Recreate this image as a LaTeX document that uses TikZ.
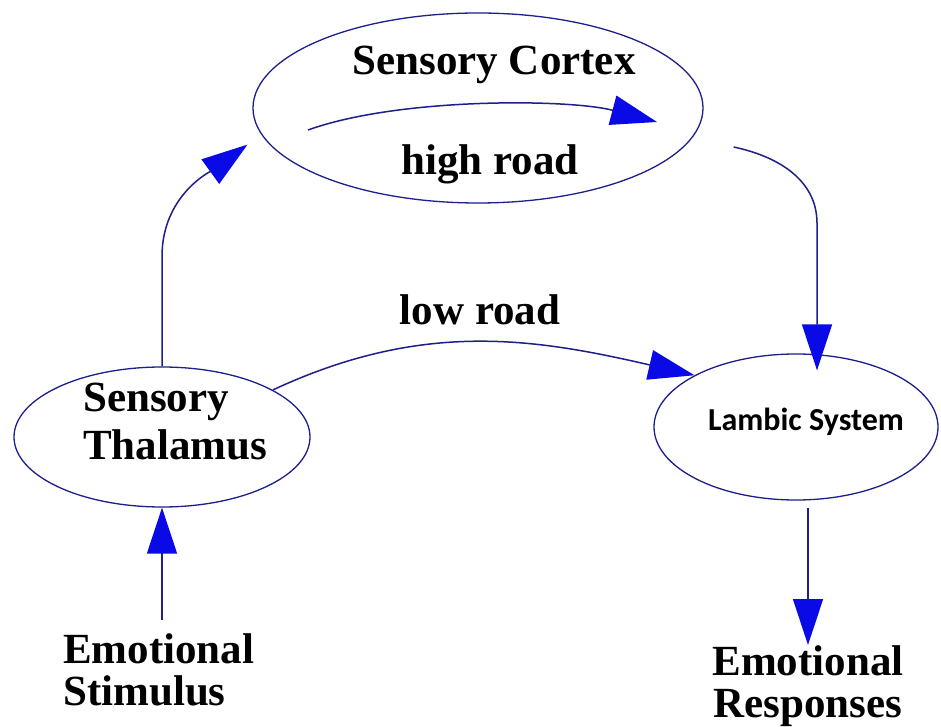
\documentclass[tikz,border=0pt]{standalone}
\usepackage{fontspec}
\setmainfont{Liberation Serif}
\newfontfamily\calibfont{Carlito}
\usetikzlibrary{arrows.meta,shapes.geometric,calc}
\definecolor{navy}{RGB}{30,30,140}
\definecolor{headblue}{RGB}{10,10,230}
\begin{document}
\begin{tikzpicture}[x=1pt,y=1pt,
  ell/.style={draw=navy, line width=1.3pt, ellipse, inner sep=0pt},
  lab/.style={font=\fontsize{43}{48}\selectfont\bfseries, inner sep=0pt},
  arr/.style={draw=navy, line width=1.5pt,
    -{Triangle[length=46pt,width=30pt,fill=headblue,color=headblue]}}]
\useasboundingbox[fill=white] (0,0) rectangle (941,726);

% ellipses
\node[ell, minimum width=450pt, minimum height=190pt] (cortex) at (478,618) {};
\node[ell, minimum width=296pt, minimum height=140pt] (thal) at (162,289) {};
\node[ell, minimum width=284pt, minimum height=146pt] (lamb) at (796,299) {};

% labels
\node[lab, anchor=base] (sctext) at (494,651) {Sensory Cortex};
\node[lab, anchor=base] (high) at (490,551) {high road};
\node[lab, anchor=base] (low) at (480,401) {low road};
\node[lab, anchor=north west, align=left] (thtext) at (83,343) {Sensory\\Thalamus};
\node[inner sep=0pt, anchor=base, font=\calibfont\fontsize{32}{36}\selectfont\bfseries] (lambtext) at (806,296) {Lambic System};
\node[lab, anchor=north west, align=left, font=\fontsize{43}{42}\selectfont\bfseries] (stim) at (63,93) {Emotional\\Stimulus};
\node[lab, anchor=north, align=center, font=\fontsize{43}{42}\selectfont\bfseries] (resp) at (808,81) {Emotional\\Responses};

% connectors
\draw[arr] ($(thal.south |- stim.north)+(0,13)$) -- (thal.south);
\draw[arr, shorten >=17pt] (thal.north) -- ++(0,110) to[out=90,in=216] (cortex.187);
\draw[arr] ($(cortex.center)+(-170,-22)$) .. controls ($(cortex.center)+(-78,11)$) and ($(cortex.center)+(92,9)$) .. ($(cortex.center)+(179,-14)$);
\draw[arr] (thal.23) to[out=25,in=167] (lamb.153);
\draw[arr] ($(cortex.east)+(30,-39)$) to[out=-12,in=90] ($(lamb.north)+(21,130)$) -- ($(lamb.north)+(21,-17)$);
\draw[arr] ($(lamb.south -| resp.north)+(0,-7)$) -- (resp.north);
\end{tikzpicture}
\end{document}
